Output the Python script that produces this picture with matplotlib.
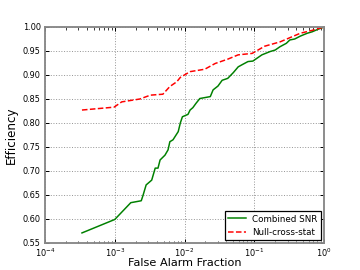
import numpy as np
import matplotlib
matplotlib.use("Agg")
import matplotlib.pyplot as plt

# Curve data: log10(false alarm fraction), efficiency
snr_logfar = [-3.47, -3.0, -2.77, -2.62, -2.595, -2.55, -2.47, -2.42, -2.38, -2.35,
              -2.28, -2.236, -2.21, -2.165, -2.09, -2.06, -2.03, -1.95, -1.92, -1.88,
              -1.835, -1.78, -1.63, -1.59, -1.52, -1.46, -1.38, -1.30, -1.23, -1.18,
              -1.09, -1.02, -0.95, -0.89, -0.77, -0.70, -0.63, -0.54, -0.49, -0.42,
              -0.34, -0.24, -0.17, -0.09, 0.0]
snr_eff = [0.571, 0.599, 0.634, 0.638, 0.649, 0.671, 0.681, 0.706, 0.706, 0.723,
           0.733, 0.744, 0.761, 0.765, 0.782, 0.800, 0.813, 0.818, 0.827, 0.832,
           0.841, 0.851, 0.855, 0.869, 0.877, 0.889, 0.893, 0.905, 0.917, 0.921,
           0.928, 0.929, 0.936, 0.942, 0.949, 0.952, 0.959, 0.966, 0.973, 0.975,
           0.981, 0.987, 0.990, 0.995, 1.0]

null_logfar = [-3.47, -3.01, -2.90, -2.64, -2.49, -2.31, -2.21, -2.11, -2.06, -1.92,
               -1.71, -1.56, -1.38, -1.23, -1.03, -0.85, -0.63, -0.34, -0.17, 0.0]
null_eff = [0.827, 0.833, 0.844, 0.850, 0.858, 0.860, 0.876, 0.886, 0.895, 0.907,
            0.912, 0.924, 0.933, 0.942, 0.945, 0.960, 0.969, 0.987, 0.993, 1.0]

fig = plt.figure(figsize=(4, 3), dpi=90)
ax = fig.add_axes([45 / 360, 27 / 270, 279 / 360, 216 / 270])

ax.plot(10 ** np.array(snr_logfar), snr_eff, color='green', lw=1.2,
        label='Combined SNR')
ax.plot(10 ** np.array(null_logfar), null_eff, color='red', lw=1.2, ls='--',
        label='Null-cross-stat')

ax.set_xscale('log')
ax.set_xlim(1e-4, 1)
ax.set_ylim(0.55, 1.0)
ax.set_yticks(np.arange(0.55, 1.001, 0.05))
ax.set_yticklabels([f"{v:.2f}" for v in np.arange(0.55, 1.001, 0.05)])
ax.grid(True, which='major', ls=':', color='#999999', lw=0.8)
ax.tick_params(which='both', direction='in', top=True, right=True, labelsize=6.5)
ax.tick_params(axis='x', pad=3)
for s in ax.spines.values():
    s.set_color('#888888')
    s.set_linewidth(1.5)

ax.set_xlabel("False Alarm Fraction", fontsize=9, va='bottom')
ax.xaxis.set_label_coords(0.5, -0.118)
ax.set_ylabel("Efficiency", fontsize=9.5, labelpad=4)

leg = ax.legend(loc='lower right', fontsize=7, fancybox=False, framealpha=1,
                handlelength=2, borderaxespad=0.3)
leg.get_frame().set_edgecolor('black')

fig.savefig("out.png", dpi=90)
